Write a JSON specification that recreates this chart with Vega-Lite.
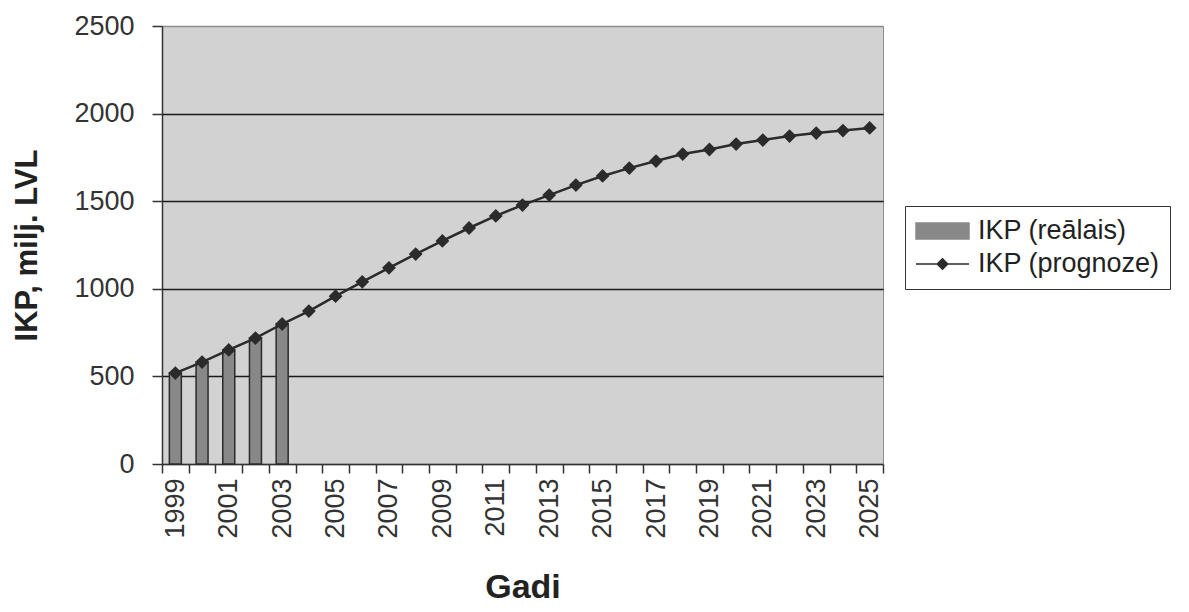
{
  "$schema": "https://vega.github.io/schema/vega-lite/v6.json",
  "width": 721,
  "height": 438,
  "autosize": "none",
  "padding": {"left": 162, "top": 26, "right": 306, "bottom": 148},
  "background": "white",
  "config": {
    "font": "Liberation Sans",
    "view": {"fill": "#d2d2d2", "stroke": "#8c8c8c", "strokeWidth": 1}
  },
  "data": {
    "values": [
      {"year": 1999, "series": "IKP (reālais)", "value": 519},
      {"year": 2000, "series": "IKP (reālais)", "value": 582},
      {"year": 2001, "series": "IKP (reālais)", "value": 651},
      {"year": 2002, "series": "IKP (reālais)", "value": 719},
      {"year": 2003, "series": "IKP (reālais)", "value": 799},
      {"year": 1999, "series": "IKP (prognoze)", "value": 519},
      {"year": 2000, "series": "IKP (prognoze)", "value": 582},
      {"year": 2001, "series": "IKP (prognoze)", "value": 651},
      {"year": 2002, "series": "IKP (prognoze)", "value": 719},
      {"year": 2003, "series": "IKP (prognoze)", "value": 799},
      {"year": 2004, "series": "IKP (prognoze)", "value": 873},
      {"year": 2005, "series": "IKP (prognoze)", "value": 958},
      {"year": 2006, "series": "IKP (prognoze)", "value": 1040},
      {"year": 2007, "series": "IKP (prognoze)", "value": 1120},
      {"year": 2008, "series": "IKP (prognoze)", "value": 1198},
      {"year": 2009, "series": "IKP (prognoze)", "value": 1273},
      {"year": 2010, "series": "IKP (prognoze)", "value": 1347},
      {"year": 2011, "series": "IKP (prognoze)", "value": 1416},
      {"year": 2012, "series": "IKP (prognoze)", "value": 1478},
      {"year": 2013, "series": "IKP (prognoze)", "value": 1535},
      {"year": 2014, "series": "IKP (prognoze)", "value": 1592},
      {"year": 2015, "series": "IKP (prognoze)", "value": 1644},
      {"year": 2016, "series": "IKP (prognoze)", "value": 1689},
      {"year": 2017, "series": "IKP (prognoze)", "value": 1729},
      {"year": 2018, "series": "IKP (prognoze)", "value": 1769},
      {"year": 2019, "series": "IKP (prognoze)", "value": 1795},
      {"year": 2020, "series": "IKP (prognoze)", "value": 1826},
      {"year": 2021, "series": "IKP (prognoze)", "value": 1849},
      {"year": 2022, "series": "IKP (prognoze)", "value": 1872},
      {"year": 2023, "series": "IKP (prognoze)", "value": 1889},
      {"year": 2024, "series": "IKP (prognoze)", "value": 1903},
      {"year": 2025, "series": "IKP (prognoze)", "value": 1918}
    ]
  },
  "encoding": {
    "x": {
      "field": "year",
      "type": "ordinal",
      "scale": {"paddingInner": 0, "paddingOuter": 0},
      "axis": {
        "title": "Gadi",
        "titleFontSize": 34,
        "titleFontWeight": "bold",
        "titleColor": "#222",
        "titlePadding": 32,
        "labelFontSize": 27,
        "labelColor": "#333",
        "labelAngle": -90,
        "labelPadding": 5,
        "labelExpr": "datum.value % 2 == 1 ? datum.label : ''",
        "tickBand": "extent",
        "tickSize": 9,
        "tickColor": "#333",
        "tickWidth": 1.5,
        "domainColor": "#333",
        "domainWidth": 1.5,
        "grid": false
      }
    },
    "y": {
      "field": "value",
      "type": "quantitative",
      "scale": {"domain": [0, 2500], "nice": false},
      "axis": {
        "title": "IKP, milj. LVL",
        "titleFontSize": 31,
        "titleFontWeight": "bold",
        "titleColor": "#222",
        "titlePadding": 30,
        "values": [0, 500, 1000, 1500, 2000, 2500],
        "format": "d",
        "labelFontSize": 27,
        "labelColor": "#333",
        "labelPadding": 18,
        "tickSize": 10,
        "tickColor": "#333",
        "tickWidth": 1.5,
        "domainColor": "#333",
        "domainWidth": 1.5,
        "grid": true,
        "gridColor": {"condition": {"test": "datum.value === 2500 || datum.value === 0", "value": "#8c8c8c"}, "value": "#1a1a1a"},
        "gridWidth": 1.6
      }
    },
    "color": {
      "field": "series",
      "type": "nominal",
      "scale": {"domain": ["IKP (reālais)", "IKP (prognoze)"], "range": ["#888888", "#2b2b2b"]},
      "legend": {
        "title": null,
        "orient": "none",
        "legendX": 743,
        "legendY": 180,
        "padding": 10,
        "fillColor": "white",
        "strokeColor": "#333",
        "labelFontSize": 27,
        "labelColor": "#222",
        "labelOffset": 8,
        "labelLimit": 500,
        "symbolSize": 2809,
        "symbolStrokeColor": "#2b2b2b",
        "symbolStrokeWidth": 1.5,
        "clipHeight": 30,
        "rowPadding": 3,
        "encode": {
          "symbols": {
            "update": {
              "shape": {"signal": "datum.value === 'IKP (reālais)' ? 'M-1,-0.3H1V0.3H-1Z' : 'M-1,0H1M-0.2,0L0,-0.2L0.2,0L0,0.2Z'"},
              "fill": {"signal": "datum.value === 'IKP (reālais)' ? '#888888' : '#2b2b2b'"},
              "stroke": {"value": "#2b2b2b"},
              "strokeWidth": {"value": 1.5},
              "opacity": {"value": 1},
              "fillOpacity": {"value": 1},
              "strokeOpacity": {"value": 1},
              "size": {"value": 2809}
            }
          }
        }
      }
    }
  },
  "layer": [
    {
      "transform": [{"filter": "datum.series === 'IKP (reālais)'"}],
      "mark": {"type": "bar", "width": 12, "stroke": "#2b2b2b", "strokeWidth": 1.5, "opacity": 1}
    },
    {
      "transform": [{"filter": "datum.series === 'IKP (prognoze)'"}],
      "mark": {"type": "line", "strokeWidth": 2.5, "point": {"shape": "diamond", "size": 190, "filled": true, "opacity": 1}}
    }
  ]
}
